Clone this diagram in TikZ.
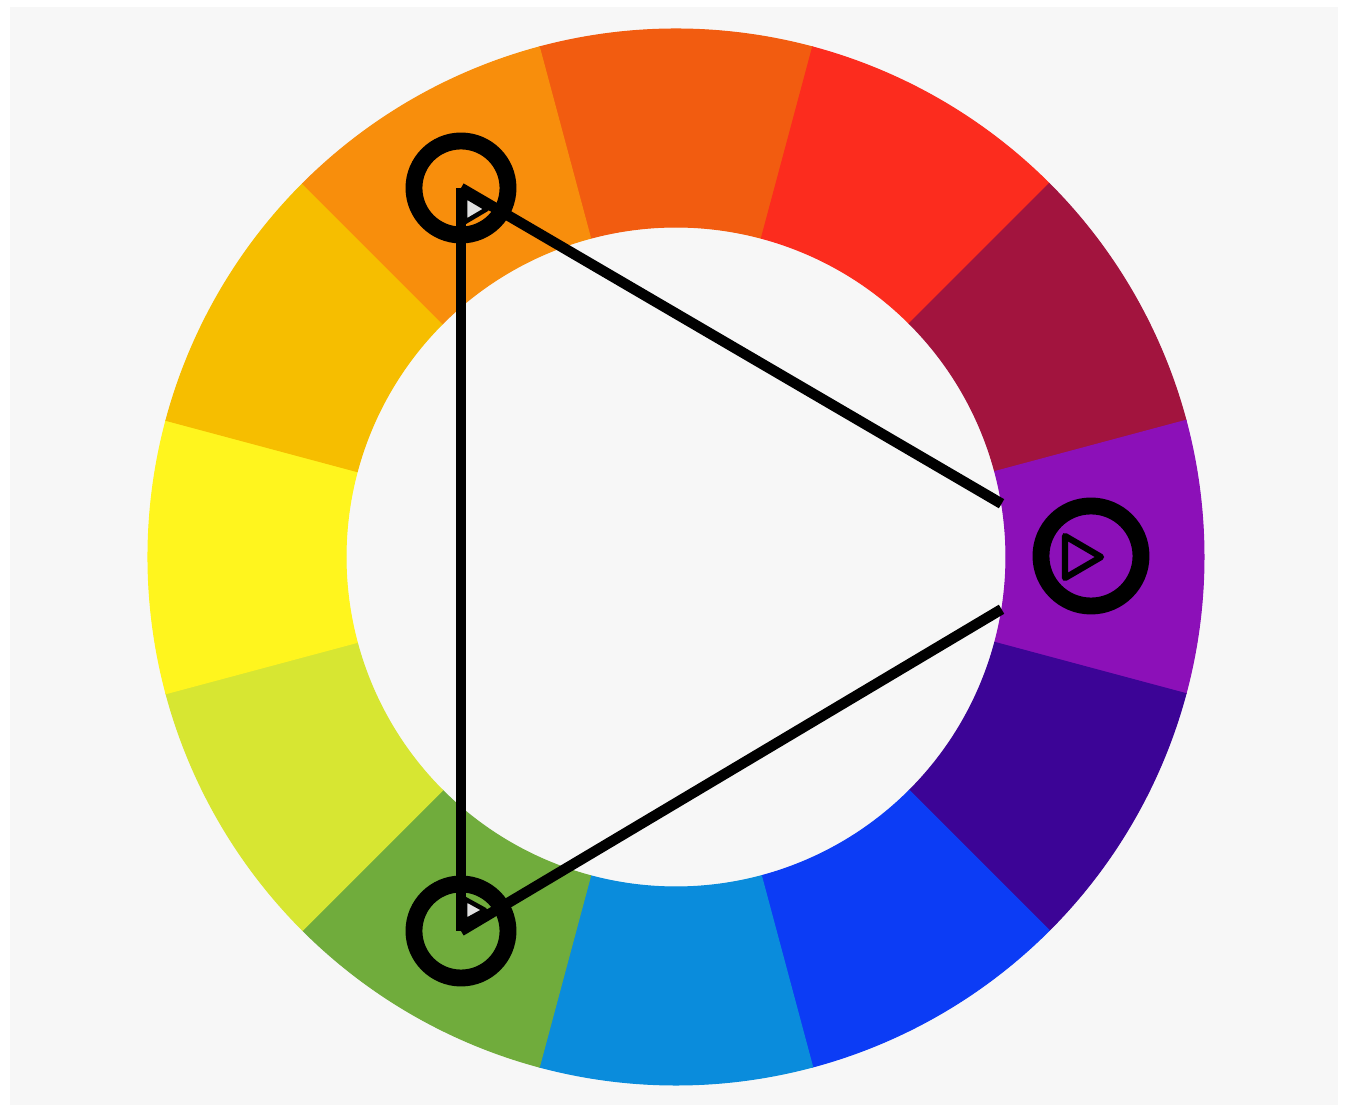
\documentclass[tikz,border=0pt]{standalone}
\usetikzlibrary{calc}
\definecolor{panelgray}{RGB}{247,247,247}
\definecolor{tipgray}{RGB}{225,225,225}
\definecolor{wRedOrange}{RGB}{242,92,16}
\definecolor{wRed}{RGB}{252,44,30}
\definecolor{wCrimson}{RGB}{162,20,62}
\definecolor{wPurple}{RGB}{140,16,184}
\definecolor{wIndigo}{RGB}{60,4,150}
\definecolor{wBlue}{RGB}{12,60,245}
\definecolor{wAzure}{RGB}{10,140,220}
\definecolor{wGreen}{RGB}{112,172,60}
\definecolor{wLime}{RGB}{215,230,50}
\definecolor{wYellow}{RGB}{255,245,30}
\definecolor{wAmber}{RGB}{246,190,0}
\definecolor{wOrange}{RGB}{248,142,12}

\begin{document}
\begin{tikzpicture}[x=0.01cm,y=0.01cm,
    pick/.style={circle,draw=black,line width=4.8pt,minimum size=0.94cm,inner sep=0pt},
    edge/.style={draw=black,line width=3pt},
    tip/.style={draw=black,line width=1.3pt,line join=round}]
  \useasboundingbox (-676,-549) rectangle (671,557);
  \fill[white] (-676,-549) rectangle (671,557);
  \fill[panelgray] (-666,-548) rectangle (662,550);
  % colour ring, clockwise from the top
  \foreach \c [count=\i from 0] in {wRedOrange,wRed,wCrimson,wPurple,wIndigo,wBlue,wAzure,wGreen,wLime,wYellow,wAmber,wOrange}{
    \pgfmathsetmacro{\a}{90-30*\i}
    \filldraw[fill=\c,draw=\c,line width=0.3pt] (\a-15:330) arc[start angle=\a-15,end angle=\a+15,radius=330]
      -- (\a+15:528) arc[start angle=\a+15,end angle=\a-15,radius=528] -- cycle;
  }
  % the three picked hues
  \node[pick] (hueTop) at (-215,369) {};
  \node[pick] (hueBottom) at (-215,-374) {};
  \node[pick,minimum size=1cm] (hueRight) at (415,1) {};
  \coordinate (rimA) at ($(hueTop.center)!0.858!(hueRight.center)$);
  \coordinate (rimB) at ($(hueBottom.center)!0.858!(hueRight.center)$);
  \draw[edge] (hueTop.center) -- (hueBottom.center);
  \draw[edge] (hueTop.center) -- (rimA);
  \draw[edge] (hueBottom.center) -- (rimB);
  % small marks inside the circles
  \filldraw[tip,fill=tipgray] ($(hueTop.center)+(4,-8)$) -- ++(0,-26) -- ++(22,13) -- cycle;
  \filldraw[tip,fill=tipgray] ($(hueBottom.center)+(4,32)$) -- ++(0,-22) -- ++(20,11) -- cycle;
  \draw[tip,line width=1.8pt] ($(hueRight.center)+(-26,20)$) -- ++(0,-42) -- ++(36,21) -- cycle;
\end{tikzpicture}
\end{document}
